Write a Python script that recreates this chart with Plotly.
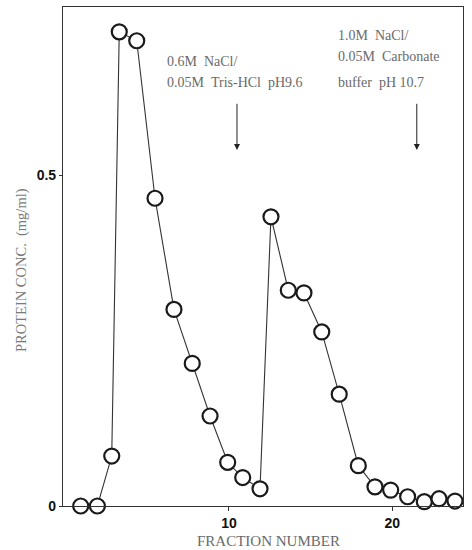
import plotly.graph_objects as go

fraction = [0.92, 1.94, 2.82, 3.28, 4.35, 5.47, 6.63, 7.75, 8.84, 9.92, 10.84, 11.90,
            12.57, 13.63, 14.59, 15.68, 16.75, 17.92, 18.94, 19.90, 20.94, 21.96, 22.86, 23.84]
protein = [0.0, 0.0, 0.0755, 0.7165, 0.703, 0.465, 0.297, 0.2155, 0.136, 0.066, 0.043, 0.026,
           0.437, 0.326, 0.322, 0.263, 0.169, 0.061, 0.029, 0.024, 0.014, 0.0065, 0.011, 0.0075]

x_ticks = [10, 20]
x_tick_labels = ["10", "20"]
y_ticks = [0, 0.5]
y_tick_labels = ["0", "0.5"]

arrow_x = [10.49, 21.5]
arrow_top = 0.61
arrow_bottom = 0.538

NB = "\u00a0"
label_lines = [
    ("0.6M" + NB * 2 + "NaCl/", 165, 61),
    ("0.05M" + NB * 2 + "Tris-HCl" + NB * 2 + "pH9.6", 165, 82),
    ("1.0M" + NB * 2 + "NaCl/", 336, 35),
    ("0.05M" + NB * 2 + "Carbonate", 336, 57),
    ("buffer" + NB * 2 + "pH" + NB + "10.7", 336, 82),
]

W, H = 472, 550
ml, mr, mt, mb = 63, 9, 7, 44

fig = go.Figure()
fig.add_trace(go.Scatter(
    x=fraction, y=protein, mode="lines+markers",
    line=dict(color="#333333", width=1.1),
    marker=dict(symbol="circle", size=15, color="white",
                line=dict(color="#1a1a1a", width=2.2)),
    cliponaxis=False, showlegend=False,
))

serif = "Liberation Serif, Times New Roman, serif"
ann = []
for txt, px, py in label_lines:
    ann.append(dict(text=txt, xref="paper", yref="paper",
                    x=(px - ml) / (W - ml - mr), y=1 - (py - mt) / (H - mt - mb),
                    xanchor="left", yanchor="middle", showarrow=False,
                    font=dict(family=serif, size=14, color="#6a6a6a")))
for ax_ in arrow_x:
    ann.append(dict(x=ax_, y=arrow_bottom, ax=ax_, ay=arrow_top, xref="x", yref="y",
                    axref="x", ayref="y", text="", showarrow=True, arrowhead=2,
                    arrowsize=1.2, arrowwidth=1, arrowcolor="#222222"))
ann.append(dict(text="PROTEIN" + NB + "CONC." + NB * 2 + "(mg/ml)", xref="paper", yref="paper",
                x=(21 - ml) / (W - ml - mr), y=1 - (270 - mt) / (H - mt - mb),
                xanchor="center", yanchor="middle", textangle=-90, showarrow=False,
                font=dict(family=serif, size=14.5, color="#7a7a7a")))
ann.append(dict(text="FRACTION" + NB + "NUMBER", xref="paper", yref="paper",
                x=(268 - ml) / (W - ml - mr), y=1 - (541 - mt) / (H - mt - mb),
                xanchor="center", yanchor="middle", showarrow=False,
                font=dict(family=serif, size=15, color="#6a6a6a")))

fig.update_layout(
    width=W, height=H,
    margin=dict(l=ml, r=mr, t=mt, b=mb),
    paper_bgcolor="white", plot_bgcolor="white",
    annotations=ann,
    xaxis=dict(range=[-0.165, 24.33], tickvals=x_ticks, ticktext=x_tick_labels,
               showgrid=False, zeroline=False, showline=True, linecolor="#333333",
               linewidth=1.2, mirror=True, ticks="outside", ticklen=4, tickcolor="#333333",
               tickfont=dict(family="Liberation Sans, Arial, sans-serif", size=14, color="#111111",
                             weight="bold")),
    yaxis=dict(range=[0, 0.754], tickvals=y_ticks, ticktext=y_tick_labels,
               showgrid=False, zeroline=False, showline=True, linecolor="#333333",
               linewidth=1.2, mirror=True, ticks="outside", ticklen=3, tickcolor="#333333",
               tickfont=dict(family="Liberation Sans, Arial, sans-serif", size=14, color="#111111",
                             weight="bold")),
)

fig.write_html("out.html", config={"displayModeBar": False},
               post_script="document.body.style.margin='0';document.body.style.padding='0';")
